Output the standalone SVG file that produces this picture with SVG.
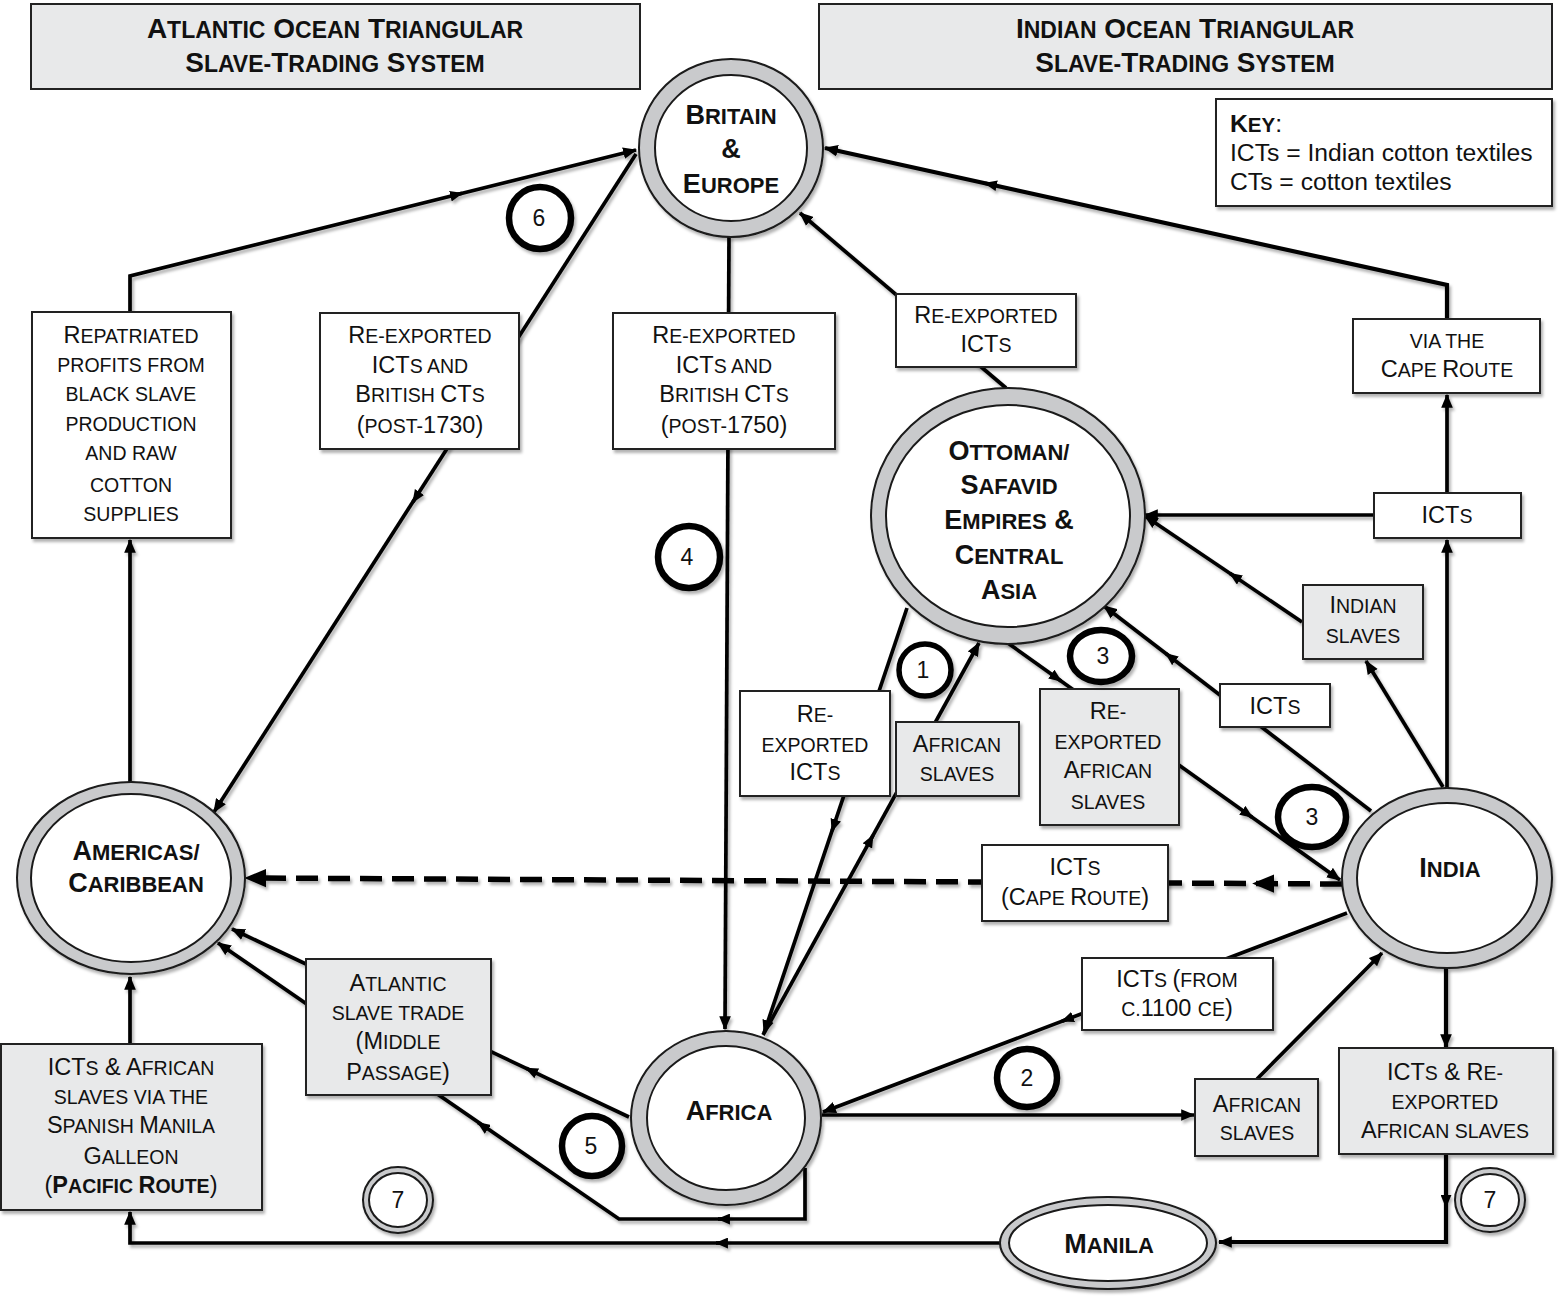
<svg xmlns="http://www.w3.org/2000/svg" width="1563" height="1302" viewBox="0 0 1563 1302">
<defs>
<style>
.ln{fill:none;stroke:#000;stroke-width:3.7}
.a{marker-end:url(#arr)}
.m{marker-end:url(#am)}
.dash{fill:none;stroke:#000;stroke-width:5.5;stroke-dasharray:22 10}
.bx{fill:#fff;stroke:#222;stroke-width:2}
.gb{fill:#e8e9ea;stroke:#222;stroke-width:2}
.ro{fill:#c9cacc;stroke:#1a1a1a;stroke-width:2}
.ri{fill:#fff;stroke:#1a1a1a;stroke-width:2}
.badge{fill:#fff;stroke:#000;stroke-width:6.5}
text{font-family:"Liberation Sans",Arial,sans-serif;fill:#111}
.t{font-size:23.5px;text-anchor:middle}
.s{font-size:19.5px}
.n{font-size:27px;font-weight:bold;text-anchor:middle}
.ns{font-size:22px}
.h{font-size:28px;font-weight:bold;text-anchor:middle}
.hs{font-size:23px}
.num{font-size:23px;text-anchor:middle}
.k{font-size:24.7px}
.ks{font-size:20.5px}
.sh{filter:url(#sh)}
</style>
<filter id="sh" x="-20%" y="-20%" width="150%" height="150%"><feDropShadow dx="2" dy="3" stdDeviation="1.8" flood-color="#000" flood-opacity="0.3"/></filter>
<marker id="arr" viewBox="0 0 12 10" refX="11" refY="5" markerWidth="14" markerHeight="12" markerUnits="userSpaceOnUse" orient="auto"><path d="M0,0 L12,5 L0,10 z" fill="#000"/></marker>
<marker id="am" viewBox="0 0 12 10" refX="11" refY="5" markerWidth="13" markerHeight="11" markerUnits="userSpaceOnUse" orient="auto"><path d="M0,0 L12,5 L0,10 z" fill="#000"/></marker>
<marker id="arrL" viewBox="0 0 12 10" refX="11" refY="5" markerWidth="22" markerHeight="19" markerUnits="userSpaceOnUse" orient="auto"><path d="M0,0 L12,5 L0,10 z" fill="#000"/></marker>
</defs>
<rect width="1563" height="1302" fill="#fff"/>

<g id="connectors" class="sh">
<path class="ln a" d="M130,312 L130,276 L636,150"/>
<path class="ln m" d="M452.3,195.7 L462,193.3"/>
<path class="ln a" d="M636,154 L214,812"/>
<path class="ln m" d="M418.4,493.6 L413,502"/>
<path class="ln a" d="M729,236 L725,1029"/>
<path class="ln a" d="M1006,388 L800,213"/>
<path class="ln a" d="M1447,788 L1447,540"/>
<path class="ln a" d="M1447,493 L1447,395"/>
<path class="ln a" style="stroke-width:4.2" d="M1447,319 L1447,285 L825,148"/>
<path class="ln m" d="M994.8,185.3 L985,183.2"/>
<path class="ln a" d="M1374,515 L1145,515"/>
<path class="ln a" d="M1302,622 L1145,516"/>
<path class="ln m" d="M1238.3,579 L1230,573.4"/>
<path class="ln a" d="M1443,787 L1366,661"/>
<path class="ln a" d="M1371,811 L1104,606"/>
<path class="ln m" d="M1173.9,659.7 L1166,653.6"/>
<path class="ln a" d="M1005,641 L1340,880"/>
<path class="ln m" d="M1052.9,675.2 L1061,681"/>
<path class="ln m" d="M1243.9,811.4 L1252,817.2"/>
<path class="ln a" d="M763,1035 L979,643"/>
<path class="ln m" d="M868.2,844.2 L873,835.4"/>
<path class="ln a" d="M907,608 L764,1033"/>
<path class="ln m" d="M835.2,821.5 L832,831"/>
<path class="dash" d="M1342,884 L258,878"/>
<path style="fill:none;stroke:none;marker-end:url(#arrL)" d="M270,878.1 L246,878"/>
<path style="fill:none;stroke:none;marker-end:url(#arrL)" d="M1280,883.7 L1254,883.5"/>
<path class="ln a" d="M1347,913 L823,1112"/>
<path class="ln m" d="M1071.4,1017.6 L1062,1021.2"/>
<path class="ln a" d="M822,1115 L1194,1115"/>
<path class="ln a" d="M1257,1079 L1382,953"/>
<path class="ln a" style="stroke-width:4.2" d="M1446,968 L1446,1047"/>
<path class="ln a" style="stroke-width:4.2" d="M1446,1154 L1446,1242 L1219,1242"/>
<path class="ln m" d="M1446,1197 L1446,1207"/>
<path class="ln a" d="M1000,1243 L130,1243 L130,1212"/>
<path class="ln m" d="M726,1243 L716,1243"/>
<path class="ln a" d="M130,1044 L130,977"/>
<path class="ln a" d="M130,782 L130,540"/>
<path class="ln a" d="M629,1117 L232,929"/>
<path class="ln m" d="M535,1072.5 L526,1068.2"/>
<path class="ln a" d="M805,1168 L805,1219 L619,1219 L218,943"/>
<path class="ln m" d="M728,1219 L718,1219"/>
<path class="ln m" d="M486.2,1128.3 L478,1122.6"/>
</g>

<g id="header-atlantic">
<rect class="gb" x="31" y="4" width="609" height="85"/>
<text class="h" x="335" y="38">A<tspan class="hs">TLANTIC</tspan> O<tspan class="hs">CEAN</tspan> T<tspan class="hs">RIANGULAR</tspan></text>
<text class="h" x="335" y="72">S<tspan class="hs">LAVE-</tspan>T<tspan class="hs">RADING</tspan> S<tspan class="hs">YSTEM</tspan></text>
</g>
<g id="header-indian">
<rect class="gb" x="819" y="4" width="733" height="85"/>
<text class="h" x="1185" y="38">I<tspan class="hs">NDIAN</tspan> O<tspan class="hs">CEAN</tspan> T<tspan class="hs">RIANGULAR</tspan></text>
<text class="h" x="1185" y="72">S<tspan class="hs">LAVE-</tspan>T<tspan class="hs">RADING</tspan> S<tspan class="hs">YSTEM</tspan></text>
</g>
<g id="key">
<rect class="bx sh" x="1216" y="99" width="336" height="107"/>
<text class="k" x="1230" y="132"><tspan font-weight="bold">K<tspan class="ks">EY</tspan></tspan>:</text>
<text class="k" x="1230" y="161">ICTs = Indian cotton textiles</text>
<text class="k" x="1230" y="190">CTs = cotton textiles</text>
</g>

<g id="node-britain">
<ellipse class="ro sh" cx="731" cy="148" rx="92" ry="89"/>
<ellipse class="ri" cx="731" cy="148" rx="76" ry="73"/>
<text class="n" x="731" y="124">B<tspan class="ns">RITAIN</tspan></text>
<text class="n" x="731" y="158">&amp;</text>
<text class="n" x="731" y="193">E<tspan class="ns">UROPE</tspan></text>
</g>
<g id="node-ottoman">
<ellipse class="ro sh" cx="1008" cy="516" rx="137" ry="128"/>
<ellipse class="ri" cx="1008" cy="516" rx="122" ry="111"/>
<text class="n" x="1009" y="460">O<tspan class="ns">TTOMAN/</tspan></text>
<text class="n" x="1009" y="494">S<tspan class="ns">AFAVID</tspan></text>
<text class="n" x="1009" y="529">E<tspan class="ns">MPIRES</tspan> &amp;</text>
<text class="n" x="1009" y="564">C<tspan class="ns">ENTRAL</tspan></text>
<text class="n" x="1009" y="599">A<tspan class="ns">SIA</tspan></text>
</g>
<g id="node-india">
<ellipse class="ro sh" cx="1447" cy="878" rx="105" ry="90"/>
<ellipse class="ri" cx="1447" cy="878" rx="90" ry="75"/>
<text class="n" x="1450" y="877">I<tspan class="ns">NDIA</tspan></text>
</g>
<g id="node-americas">
<ellipse class="ro sh" cx="131" cy="878" rx="114" ry="96"/>
<ellipse class="ri" cx="131" cy="878" rx="100" ry="84"/>
<text class="n" x="136" y="860">A<tspan class="ns">MERICAS/</tspan></text>
<text class="n" x="136" y="892">C<tspan class="ns">ARIBBEAN</tspan></text>
</g>
<g id="node-africa">
<ellipse class="ro sh" cx="726" cy="1118" rx="95" ry="87"/>
<ellipse class="ri" cx="726" cy="1118" rx="79" ry="72"/>
<text class="n" x="729" y="1120">A<tspan class="ns">FRICA</tspan></text>
</g>
<g id="node-manila">
<ellipse class="ro sh" cx="1108" cy="1243" rx="108" ry="46"/>
<ellipse class="ri" cx="1108" cy="1243" rx="99" ry="38"/>
<text class="n" x="1109" y="1253">M<tspan class="ns">ANILA</tspan></text>
</g>

<g id="box-repatriated">
<rect class="bx sh" x="32" y="312" width="199" height="226"/>
<text class="t" x="131" y="343">R<tspan class="s">EPATRIATED</tspan></text>
<text class="t" x="131" y="372"><tspan class="s">PROFITS FROM</tspan></text>
<text class="t" x="131" y="401"><tspan class="s">BLACK SLAVE</tspan></text>
<text class="t" x="131" y="431"><tspan class="s">PRODUCTION</tspan></text>
<text class="t" x="131" y="460"><tspan class="s">AND RAW</tspan></text>
<text class="t" x="131" y="492"><tspan class="s">COTTON</tspan></text>
<text class="t" x="131" y="521"><tspan class="s">SUPPLIES</tspan></text>
</g>
<g id="box-post1730">
<rect class="bx sh" x="320" y="313" width="199" height="136"/>
<text class="t" x="420" y="343">R<tspan class="s">E-EXPORTED</tspan></text>
<text class="t" x="420" y="373">ICT<tspan class="s">S AND</tspan></text>
<text class="t" x="420" y="402">B<tspan class="s">RITISH </tspan>CT<tspan class="s">S</tspan></text>
<text class="t" x="420" y="433">(<tspan class="s">POST-</tspan>1730)</text>
</g>
<g id="box-post1750">
<rect class="bx sh" x="613" y="313" width="222" height="136"/>
<text class="t" x="724" y="343">R<tspan class="s">E-EXPORTED</tspan></text>
<text class="t" x="724" y="373">ICT<tspan class="s">S AND</tspan></text>
<text class="t" x="724" y="402">B<tspan class="s">RITISH </tspan>CT<tspan class="s">S</tspan></text>
<text class="t" x="724" y="433">(<tspan class="s">POST-</tspan>1750)</text>
</g>
<g id="box-reexported-top">
<rect class="bx sh" x="896" y="294" width="180" height="73"/>
<text class="t" x="986" y="323">R<tspan class="s">E-EXPORTED</tspan></text>
<text class="t" x="986" y="352">ICT<tspan class="s">S</tspan></text>
</g>
<g id="box-cape">
<rect class="bx sh" x="1353" y="319" width="187" height="74"/>
<text class="t" x="1447" y="348"><tspan class="s">VIA THE</tspan></text>
<text class="t" x="1447" y="377">C<tspan class="s">APE </tspan>R<tspan class="s">OUTE</tspan></text>
</g>
<g id="box-icts-right">
<rect class="bx sh" x="1374" y="493" width="147" height="45"/>
<text class="t" x="1447" y="523">ICT<tspan class="s">S</tspan></text>
</g>
<g id="box-indian-slaves">
<rect class="gb sh" x="1303" y="585" width="120" height="74"/>
<text class="t" x="1363" y="613">I<tspan class="s">NDIAN</tspan></text>
<text class="t" x="1363" y="643"><tspan class="s">SLAVES</tspan></text>
</g>
<g id="box-icts-mid">
<rect class="bx sh" x="1220" y="684" width="110" height="43"/>
<text class="t" x="1275" y="714">ICT<tspan class="s">S</tspan></text>
</g>
<g id="box-reexported-icts">
<rect class="bx sh" x="740" y="691" width="150" height="105"/>
<text class="t" x="815" y="722">R<tspan class="s">E-</tspan></text>
<text class="t" x="815" y="752"><tspan class="s">EXPORTED</tspan></text>
<text class="t" x="815" y="780">ICT<tspan class="s">S</tspan></text>
</g>
<g id="box-african-slaves-top">
<rect class="gb sh" x="896" y="722" width="123" height="74"/>
<text class="t" x="957" y="752">A<tspan class="s">FRICAN</tspan></text>
<text class="t" x="957" y="781"><tspan class="s">SLAVES</tspan></text>
</g>
<g id="box-reexported-african">
<rect class="gb sh" x="1040" y="689" width="139" height="136"/>
<text class="t" x="1108" y="719">R<tspan class="s">E-</tspan></text>
<text class="t" x="1108" y="749"><tspan class="s">EXPORTED</tspan></text>
<text class="t" x="1108" y="778">A<tspan class="s">FRICAN</tspan></text>
<text class="t" x="1108" y="809"><tspan class="s">SLAVES</tspan></text>
</g>
<g id="box-icts-cape">
<rect class="bx sh" x="982" y="845" width="186" height="76"/>
<text class="t" x="1075" y="875">ICT<tspan class="s">S</tspan></text>
<text class="t" x="1075" y="905">(C<tspan class="s">APE </tspan>R<tspan class="s">OUTE</tspan>)</text>
</g>
<g id="box-icts-1100">
<rect class="bx sh" x="1082" y="958" width="191" height="72"/>
<text class="t" x="1177" y="987">ICT<tspan class="s">S </tspan>(<tspan class="s">FROM</tspan></text>
<text class="t" x="1177" y="1016"><tspan class="s">C.</tspan>1100 <tspan class="s">CE</tspan>)</text>
</g>
<g id="box-african-slaves-bottom">
<rect class="gb sh" x="1195" y="1079" width="123" height="77"/>
<text class="t" x="1257" y="1112">A<tspan class="s">FRICAN</tspan></text>
<text class="t" x="1257" y="1140"><tspan class="s">SLAVES</tspan></text>
</g>
<g id="box-icts-reexported">
<rect class="gb sh" x="1339" y="1048" width="214" height="106"/>
<text class="t" x="1445" y="1080">ICT<tspan class="s">S</tspan> &amp; R<tspan class="s">E-</tspan></text>
<text class="t" x="1445" y="1109"><tspan class="s">EXPORTED</tspan></text>
<text class="t" x="1445" y="1138">A<tspan class="s">FRICAN SLAVES</tspan></text>
</g>
<g id="box-atlantic-trade">
<rect class="gb sh" x="306" y="959" width="185" height="136"/>
<text class="t" x="398" y="991">A<tspan class="s">TLANTIC</tspan></text>
<text class="t" x="398" y="1020"><tspan class="s">SLAVE TRADE</tspan></text>
<text class="t" x="398" y="1049">(M<tspan class="s">IDDLE</tspan></text>
<text class="t" x="398" y="1080">P<tspan class="s">ASSAGE</tspan>)</text>
</g>
<g id="box-galleon">
<rect class="gb sh" x="1" y="1044" width="261" height="166"/>
<text class="t" x="131" y="1075">ICT<tspan class="s">S</tspan> &amp; A<tspan class="s">FRICAN</tspan></text>
<text class="t" x="131" y="1104"><tspan class="s">SLAVES VIA THE</tspan></text>
<text class="t" x="131" y="1133">S<tspan class="s">PANISH </tspan>M<tspan class="s">ANILA</tspan></text>
<text class="t" x="131" y="1164">G<tspan class="s">ALLEON</tspan></text>
<text class="t" x="131" y="1193">(<tspan font-weight="bold">P<tspan class="s">ACIFIC </tspan>R<tspan class="s">OUTE</tspan></tspan>)</text>
</g>

<g id="badge-6"><circle class="badge sh" cx="540" cy="218" r="31"/><text class="num" x="539" y="226">6</text></g>
<g id="badge-4"><circle class="badge sh" cx="689" cy="557" r="31"/><text class="num" x="687" y="565">4</text></g>
<g id="badge-1"><circle class="badge sh" cx="925" cy="670" r="26" style="stroke-width:5.5"/><text class="num" x="923" y="678">1</text></g>
<g id="badge-3a"><ellipse class="badge sh" cx="1101" cy="656" rx="31" ry="26"/><text class="num" x="1103" y="664">3</text></g>
<g id="badge-3b"><ellipse class="badge sh" cx="1312" cy="817" rx="34" ry="30"/><text class="num" x="1312" y="825">3</text></g>
<g id="badge-2"><ellipse class="badge sh" cx="1027" cy="1078" rx="30" ry="29"/><text class="num" x="1027" y="1086">2</text></g>
<g id="badge-5"><circle class="badge sh" cx="592" cy="1146" r="30"/><text class="num" x="591" y="1154">5</text></g>
<g id="badge-7a">
<ellipse class="ro sh" cx="398" cy="1200" rx="35" ry="33"/>
<ellipse class="ri" cx="398" cy="1200" rx="29" ry="27"/>
<text class="num" x="398" y="1208">7</text>
</g>
<g id="badge-7b">
<ellipse class="ro sh" cx="1490" cy="1200" rx="35" ry="32"/>
<ellipse class="ri" cx="1490" cy="1200" rx="29" ry="26"/>
<text class="num" x="1490" y="1208">7</text>
</g>
</svg>
